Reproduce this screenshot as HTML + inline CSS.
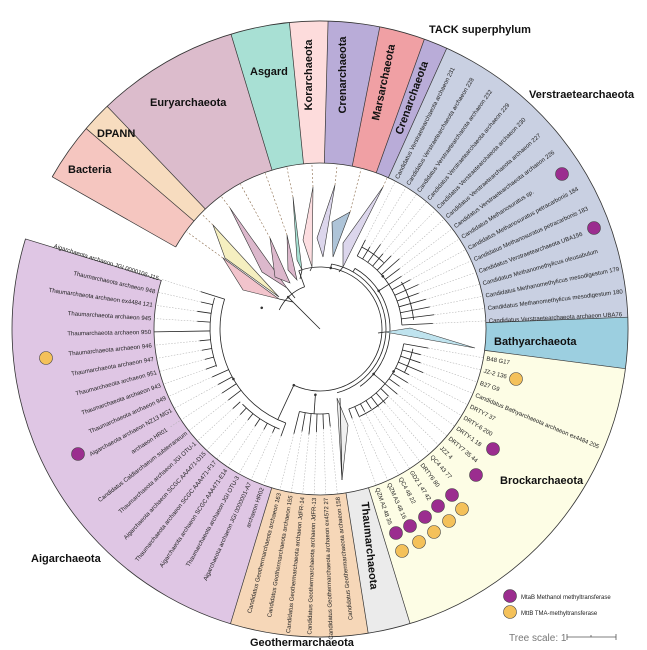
<!DOCTYPE html>
<html><head><meta charset="utf-8"><style>
html,body{margin:0;padding:0;background:#fff;width:647px;height:650px;overflow:hidden}
svg{display:block}
.b{stroke:#222;stroke-width:0.8;fill:none}
.d{stroke:#aaa;stroke-width:0.5;stroke-dasharray:1.5 1.5}
.t{font-family:"Liberation Sans",sans-serif;font-size:6px;fill:#222}
.L{font-family:"Liberation Sans",sans-serif;font-size:11px;font-weight:bold;fill:#111}
.bd{stroke:#333;stroke-width:0.7}
.tri{stroke:#333;stroke-width:0.6}
.bz{stroke:#8a6a4a;stroke-width:0.6;stroke-dasharray:2 2}
</style></head><body>
<svg width="647" height="650" viewBox="0 0 647 650" xmlns="http://www.w3.org/2000/svg">
<g transform="translate(320,329)">
<g fill="none" stroke-width="142">
<circle r="237" stroke="#f5c6c0" transform="rotate(209.6)" stroke-dasharray="45.5 3000"/>
<circle r="237" stroke="#f7dcbf" transform="rotate(220.6)" stroke-dasharray="23.6 3000"/>
<circle r="237" stroke="#dcbccc" transform="rotate(226.3)" stroke-dasharray="111.3 3000"/>
<circle r="237" stroke="#a8e0d4" transform="rotate(253.2)" stroke-dasharray="45.9 3000"/>
<circle r="237" stroke="#fddcdc" transform="rotate(264.3)" stroke-dasharray="29.8 3000"/>
<circle r="237" stroke="#b9acd8" transform="rotate(271.5)" stroke-dasharray="40.1 3000"/>
<circle r="237" stroke="#f0a0a4" transform="rotate(281.2)" stroke-dasharray="35.6 3000"/>
<circle r="237" stroke="#b9acd8" transform="rotate(289.8)" stroke-dasharray="18.6 3000"/>
<circle r="237" stroke="#c9d0e2" transform="rotate(294.3)" stroke-dasharray="262.7 3000"/>
<circle r="237" stroke="#9ccfe0" transform="rotate(357.8)" stroke-dasharray="39.7 3000"/>
<circle r="237" stroke="#fdfde5" transform="rotate(7.4)" stroke-dasharray="271.4 3000"/>
<circle r="237" stroke="#ebebeb" transform="rotate(73)" stroke-dasharray="33.1 3000"/>
<circle r="237" stroke="#f6d7b8" transform="rotate(81)" stroke-dasharray="107.1 3000"/>
<circle r="237" stroke="#dfc6e4" transform="rotate(106.9)" stroke-dasharray="372.7 3000"/>
</g>
<circle r="308" fill="none" stroke="#333" stroke-width="0.8" transform="rotate(209.6)" stroke-dasharray="1867.5 3000"/>
<circle r="166" fill="none" stroke="#333" stroke-width="0.8" transform="rotate(209.6)" stroke-dasharray="1006.5 3000"/>
<g class="bd">
<line x1="166" x2="308" transform="rotate(209.6)"/><line x1="166" x2="308" transform="rotate(220.6)"/>
<line x1="166" x2="308" transform="rotate(226.3)"/><line x1="166" x2="308" transform="rotate(253.2)"/>
<line x1="166" x2="308" transform="rotate(264.3)"/><line x1="166" x2="308" transform="rotate(271.5)"/>
<line x1="166" x2="308" transform="rotate(281.2)"/><line x1="166" x2="308" transform="rotate(289.8)"/>
<line x1="166" x2="308" transform="rotate(294.3)"/><line x1="166" x2="308" transform="rotate(357.8)"/>
<line x1="166" x2="308" transform="rotate(7.4)"/><line x1="166" x2="308" transform="rotate(73)"/>
<line x1="166" x2="308" transform="rotate(81)"/><line x1="166" x2="308" transform="rotate(106.9)"/>
<line x1="166" x2="308" transform="rotate(197)"/>
</g>
<g class="b">
<line x1="0" x2="45" transform="rotate(225)"/>
<circle r="45" transform="rotate(205)" stroke-dasharray="35.3 3000"/>
<line x1="45" x2="62" transform="rotate(250)"/>
<circle r="62" transform="rotate(250)" stroke-dasharray="243.5 3000"/>
<circle r="66" transform="rotate(280)" stroke-dasharray="178.5 3000"/>
<circle r="70" transform="rotate(300)" stroke-dasharray="140.5 3000"/>
<line x1="62" x2="66" transform="rotate(280)"/><line x1="66" x2="70" transform="rotate(300)"/>
<line x1="70" x2="82" transform="rotate(327)"/>
<line x1="70" x2="85" transform="rotate(40)"/>
<line x1="66" x2="85" transform="rotate(94)"/>
<line x1="62" x2="100" transform="rotate(115)"/>
<circle r="82" transform="rotate(297)" stroke-dasharray="86.2 3000"/>
<circle r="85" transform="rotate(10)" stroke-dasharray="89.3 3000"/>
<circle r="85" transform="rotate(84)" stroke-dasharray="29.7 3000"/>
<circle r="100" transform="rotate(110)" stroke-dasharray="152.5 3000"/>
<circle r="92" transform="rotate(297)" stroke-dasharray="27 3000"/>
<circle r="94" transform="rotate(330)" stroke-dasharray="40 3000"/>
<circle r="95" transform="rotate(12)" stroke-dasharray="25 3000"/>
<circle r="96" transform="rotate(45)" stroke-dasharray="35 3000"/>
<circle r="110" transform="rotate(160)" stroke-dasharray="70 3000"/>
<circle r="108" transform="rotate(112)" stroke-dasharray="45 3000"/>
</g>
<g fill="#333">
<circle r="1.3" cx="62" transform="rotate(280)"/><circle r="1.3" cx="70" transform="rotate(327)"/>
<circle r="1.3" cx="70" transform="rotate(40)"/><circle r="1.3" cx="66" transform="rotate(94)"/>
<circle r="1.3" cx="62" transform="rotate(115)"/><circle r="1.3" cx="45" transform="rotate(225)"/>
<circle r="1.3" cx="100" transform="rotate(150)"/><circle r="1.3" cx="82" transform="rotate(320)"/>
<circle r="1.3" cx="85" transform="rotate(30)"/><circle r="1.3" cx="62" transform="rotate(200)"/>
</g>
<g>
<g transform="rotate(297)"><line class="b" x1="82" x2="100"/><line class="d" x1="100" x2="166"/><text class="t" x="169" dy="2">Candidatus Verstraetearchaeota archaeon 231</text></g>
<g transform="rotate(301.3)"><line class="b" x1="82" x2="96"/><line class="d" x1="96" x2="166"/><text class="t" x="169" dy="2">Candidatus Verstraetearchaeota archaeon 228</text></g>
<g transform="rotate(305.6)"><line class="b" x1="82" x2="104"/><line class="d" x1="104" x2="166"/><text class="t" x="169" dy="2">Candidatus Verstraetearchaeota archaeon 232</text></g>
<g transform="rotate(309.9)"><line class="b" x1="82" x2="98"/><line class="d" x1="98" x2="166"/><text class="t" x="169" dy="2">Candidatus Verstraetearchaeota archaeon 229</text></g>
<g transform="rotate(314.2)"><line class="b" x1="82" x2="102"/><line class="d" x1="102" x2="166"/><text class="t" x="169" dy="2">Candidatus Verstraetearchaeota archaeon 230</text></g>
<g transform="rotate(318.5)"><line class="b" x1="82" x2="106"/><line class="d" x1="106" x2="166"/><text class="t" x="169" dy="2">Candidatus Verstraetearchaeota archaeon 227</text></g>
<g transform="rotate(322.8)"><line class="b" x1="82" x2="100"/><line class="d" x1="100" x2="166"/><text class="t" x="169" dy="2">Candidatus Verstraetearchaeota archaeon 226</text></g>
<g transform="rotate(327.1)"><line class="b" x1="82" x2="97"/><line class="d" x1="97" x2="166"/><text class="t" x="169" dy="2">Candidatus Methanosuratus sp.</text></g>
<g transform="rotate(331.4)"><line class="b" x1="82" x2="103"/><line class="d" x1="103" x2="166"/><text class="t" x="169" dy="2">Candidatus Methanosuratus petracarbonis 184</text></g>
<g transform="rotate(335.7)"><line class="b" x1="82" x2="108"/><line class="d" x1="108" x2="166"/><text class="t" x="169" dy="2">Candidatus Methanosuratus petracarbonis 183</text></g>
<g transform="rotate(340)"><line class="b" x1="82" x2="105"/><line class="d" x1="105" x2="166"/><text class="t" x="169" dy="2">Candidatus Verstraetearchaeota  UBA156</text></g>
<g transform="rotate(344.3)"><line class="b" x1="82" x2="110"/><line class="d" x1="110" x2="166"/><text class="t" x="169" dy="2">Candidatus Methanomethylicus oleusabulum</text></g>
<g transform="rotate(348.6)"><line class="b" x1="82" x2="112"/><line class="d" x1="112" x2="166"/><text class="t" x="169" dy="2">Candidatus Methanomethylicus mesodigestum 179</text></g>
<g transform="rotate(352.9)"><line class="b" x1="82" x2="115"/><line class="d" x1="115" x2="166"/><text class="t" x="169" dy="2">Candidatus Methanomethylicus mesodigestum 180</text></g>
<g transform="rotate(357.2)"><line class="b" x1="82" x2="113"/><line class="d" x1="113" x2="166"/><text class="t" x="169" dy="2">Candidatus Verstraetearchaeota archaeon UBA76</text></g>
</g>
<g>
<g transform="rotate(10)"><line class="b" x1="85" x2="110"/><line class="d" x1="110" x2="166"/><text class="t" x="169" dy="2">B48 G17</text></g>
<g transform="rotate(14.3)"><line class="b" x1="85" x2="104"/><line class="d" x1="104" x2="166"/><text class="t" x="169" dy="2">JZ-2 136</text></g>
<g transform="rotate(18.6)"><line class="b" x1="85" x2="106"/><line class="d" x1="106" x2="166"/><text class="t" x="169" dy="2">B27 G9</text></g>
<g transform="rotate(22.9)"><line class="b" x1="85" x2="112"/><line class="d" x1="112" x2="166"/><text class="t" x="169" dy="2">Candidatus Bathyarchaeota archaeon ex4484 205</text></g>
<g transform="rotate(27.2)"><line class="b" x1="85" x2="100"/><line class="d" x1="100" x2="166"/><text class="t" x="169" dy="2">DRTY7 37</text></g>
<g transform="rotate(31.5)"><line class="b" x1="85" x2="103"/><line class="d" x1="103" x2="166"/><text class="t" x="169" dy="2">DRTY-6 200</text></g>
<g transform="rotate(35.8)"><line class="b" x1="85" x2="98"/><line class="d" x1="98" x2="166"/><text class="t" x="169" dy="2">DRTY-1 18</text></g>
<g transform="rotate(40.1)"><line class="b" x1="85" x2="101"/><line class="d" x1="101" x2="166"/><text class="t" x="169" dy="2">DRTY7 35 44</text></g>
<g transform="rotate(44.4)"><line class="b" x1="85" x2="96"/><line class="d" x1="96" x2="166"/><text class="t" x="169" dy="2">JZZ 4</text></g>
<g transform="rotate(48.7)"><line class="b" x1="85" x2="99"/><line class="d" x1="99" x2="166"/><text class="t" x="169" dy="2">QC4 43 77</text></g>
<g transform="rotate(53)"><line class="b" x1="85" x2="97"/><line class="d" x1="97" x2="166"/><text class="t" x="169" dy="2">DRTY6 80</text></g>
<g transform="rotate(57.3)"><line class="b" x1="85" x2="95"/><line class="d" x1="95" x2="166"/><text class="t" x="169" dy="2">GD2 1 47 42</text></g>
<g transform="rotate(61.6)"><line class="b" x1="85" x2="94"/><line class="d" x1="94" x2="166"/><text class="t" x="169" dy="2">QC4 48 22</text></g>
<g transform="rotate(65.9)"><line class="b" x1="85" x2="96"/><line class="d" x1="96" x2="166"/><text class="t" x="169" dy="2">QZM A3 48 16</text></g>
<g transform="rotate(70.2)"><line class="b" x1="85" x2="95"/><line class="d" x1="95" x2="166"/><text class="t" x="169" dy="2">QZM A2 48 35</text></g>
</g>
<g>
<g transform="rotate(-76)"><line class="b" x1="-85" x2="-108"/><line class="d" x1="-108" x2="-166"/><text class="t" x="-169" dy="2" text-anchor="end">Candidatus Geothermarchaeota archaeon 163</text></g>
<g transform="rotate(-80)"><line class="b" x1="-85" x2="-104"/><line class="d" x1="-104" x2="-166"/><text class="t" x="-169" dy="2" text-anchor="end">Candidatus Geothermarchaeota archaeon 155</text></g>
<g transform="rotate(-84)"><line class="b" x1="-85" x2="-106"/><line class="d" x1="-106" x2="-166"/><text class="t" x="-169" dy="2" text-anchor="end">Candidatus Geothermarchaeota archaeon JdFR-14</text></g>
<g transform="rotate(-88)"><line class="b" x1="-85" x2="-103"/><line class="d" x1="-103" x2="-166"/><text class="t" x="-169" dy="2" text-anchor="end">Candidatus Geothermarchaeota archaeon JdFR-13</text></g>
<g transform="rotate(-92)"><line class="b" x1="-85" x2="-100"/><line class="d" x1="-100" x2="-166"/><text class="t" x="-169" dy="2" text-anchor="end">Candidatus Geothermarchaeota archaeon ex4572 27</text></g>
<g transform="rotate(-96)"><line class="b" x1="-85" x2="-98"/><line class="d" x1="-98" x2="-166"/><text class="t" x="-169" dy="2" text-anchor="end">Candidatus Geothermarchaeota archaeon 158</text></g>
</g>
<g>
<g transform="rotate(17.4)"><line class="b" x1="-100" x2="-125"/><line class="d" x1="-125" x2="-166"/><text class="t" x="-169" dy="2" text-anchor="end">Aigarchaeota archaeon JGI 0000106-J15</text></g>
<g transform="rotate(12.8)"><line class="b" x1="-110" x2="-122"/><line class="d" x1="-122" x2="-166"/><text class="t" x="-169" dy="2" text-anchor="end">Thaumarchaeota archaeon 948</text></g>
<g transform="rotate(8.2)"><line class="b" x1="-110" x2="-124"/><line class="d" x1="-124" x2="-166"/><text class="t" x="-169" dy="2" text-anchor="end">Thaumarchaeota archaeon ex4484 121</text></g>
<g transform="rotate(3.6)"><line class="b" x1="-110" x2="-123"/><line class="d" x1="-123" x2="-166"/><text class="t" x="-169" dy="2" text-anchor="end">Thaumarchaeota archaeon 945</text></g>
<g transform="rotate(-1)"><line class="b" x1="-110" x2="-166"/><text class="t" x="-169" dy="2" text-anchor="end">Thaumarchaeota archaeon 950</text></g>
<g transform="rotate(-5.6)"><line class="b" x1="-110" x2="-121"/><line class="d" x1="-121" x2="-166"/><text class="t" x="-169" dy="2" text-anchor="end">Thaumarchaeota archaeon 946</text></g>
<g transform="rotate(-10.2)"><line class="b" x1="-110" x2="-120"/><line class="d" x1="-120" x2="-166"/><text class="t" x="-169" dy="2" text-anchor="end">Thaumarchaeota archaeon 947</text></g>
<g transform="rotate(-14.8)"><line class="b" x1="-110" x2="-119"/><line class="d" x1="-119" x2="-166"/><text class="t" x="-169" dy="2" text-anchor="end">Thaumarchaeota archaeon 951</text></g>
<g transform="rotate(-19.4)"><line class="b" x1="-110" x2="-121"/><line class="d" x1="-121" x2="-166"/><text class="t" x="-169" dy="2" text-anchor="end">Thaumarchaeota archaeon 943</text></g>
<g transform="rotate(-24)"><line class="b" x1="-100" x2="-118"/><line class="d" x1="-118" x2="-166"/><text class="t" x="-169" dy="2" text-anchor="end">Thaumarchaeota archaeon 949</text></g>
<g transform="rotate(-28.6)"><line class="b" x1="-100" x2="-116"/><line class="d" x1="-116" x2="-166"/><text class="t" x="-169" dy="2" text-anchor="end">Aigarchaeota archaeon NZ13 MG1</text></g>
<g transform="rotate(-33.2)"><line class="b" x1="-100" x2="-117"/><line class="d" x1="-117" x2="-180"/><text class="t" x="-183" dy="2" text-anchor="end">archaeon HR01</text></g>
<g transform="rotate(-37.8)"><line class="b" x1="-100" x2="-116"/><line class="d" x1="-116" x2="-166"/><text class="t" x="-169" dy="2" text-anchor="end">Candidatus Caldiarchaeum subterraneum</text></g>
<g transform="rotate(-42.4)"><line class="b" x1="-108" x2="-118"/><line class="d" x1="-118" x2="-166"/><text class="t" x="-169" dy="2" text-anchor="end">Thaumarchaeota archaeon JGI OTU-1</text></g>
<g transform="rotate(-47)"><line class="b" x1="-108" x2="-117"/><line class="d" x1="-117" x2="-166"/><text class="t" x="-169" dy="2" text-anchor="end">Aigarchaeota archaeon SCGC AAA471-D15</text></g>
<g transform="rotate(-51.6)"><line class="b" x1="-108" x2="-116"/><line class="d" x1="-116" x2="-166"/><text class="t" x="-169" dy="2" text-anchor="end">Thaumarchaeota archaeon SCGC AAA471-F17</text></g>
<g transform="rotate(-56.2)"><line class="b" x1="-108" x2="-117"/><line class="d" x1="-117" x2="-166"/><text class="t" x="-169" dy="2" text-anchor="end">Aigarchaeota archaeon SCGC AAA471-E14</text></g>
<g transform="rotate(-60.8)"><line class="b" x1="-108" x2="-115"/><line class="d" x1="-115" x2="-166"/><text class="t" x="-169" dy="2" text-anchor="end">Thaumarchaeota archaeon JGI OTU-3</text></g>
<g transform="rotate(-65.4)"><line class="b" x1="-108" x2="-114"/><line class="d" x1="-114" x2="-166"/><text class="t" x="-169" dy="2" text-anchor="end">Aigarchaeota archaeon JGI 0000001-A7</text></g>
<g transform="rotate(-70)"><line class="b" x1="-100" x2="-114"/><line class="d" x1="-114" x2="-166"/><text class="t" x="-169" dy="2" text-anchor="end">archaeon HR02</text></g>
</g>
</g>
<g class="tri">
<polygon fill="#f2c4cc" points="223,258 243,290 279,299"/>
<polygon fill="#f5efc0" points="213,225 225,258 279,297"/>
<polygon fill="#dcb8cc" points="230,208 262,272 287,288"/>
<polygon fill="#dcb8cc" points="270,238 275,277 290,283"/>
<polygon fill="#dcb8cc" points="287,235 288,270 297,280"/>
<polygon fill="#a6e0d2" points="293,197 297,260 302,270"/>
<polygon fill="#fcdde0" points="313,187 303,240 312,267"/>
<polygon fill="#dcd6ec" points="335,185 317,238 323,257"/>
<polygon fill="#aec4d8" points="350,212 332,222 333,257"/>
<polygon fill="#dcd6ec" points="383,187 343,243 343,267"/>
<polygon fill="#bfe3ee" points="385,332 410,328 475,348"/>
<polygon fill="#f0f0f0" points="337,398 348,425 342,480"/>
</g>
<g class="bz">
<line x1="223" y1="258" x2="187" y2="232"/>
<line x1="213" y1="225" x2="201.5" y2="213.9"/>
<line x1="230" y1="208" x2="221.5" y2="196.6"/>
<line x1="270" y1="238" x2="240.5" y2="184.3"/>
<line x1="287" y1="235" x2="265.3" y2="173.2"/>
<line x1="293" y1="197" x2="286.9" y2="167.3"/>
<line x1="313" y1="187" x2="311.9" y2="164.3"/>
<line x1="335" y1="185" x2="337.1" y2="164.9"/>
<line x1="350" y1="212" x2="361" y2="169.2"/>
<line x1="383" y1="187" x2="386.9" y2="178.2"/>
</g>
<g class="b">
<line x1="279" y1="299" x2="293" y2="302"/><line x1="287" y1="288" x2="295" y2="298"/>
<line x1="302" y1="270" x2="300" y2="279"/><line x1="312" y1="267" x2="310" y2="271"/>
<line x1="343" y1="267" x2="339" y2="272"/><line x1="385" y1="332" x2="378" y2="333"/>
<line x1="342" y1="480" x2="340" y2="398"/>
</g>
<text class="L" x="429" y="33">TACK superphylum</text>
<text class="L" x="529" y="98">Verstraetearchaeota</text>
<text class="L" x="150" y="106">Euryarchaeota</text>
<text class="L" x="97" y="137">DPANN</text>
<text class="L" x="68" y="173">Bacteria</text>
<text class="L" x="250" y="75">Asgard</text>
<text class="L" text-anchor="middle" transform="translate(312,75) rotate(-90)">Korarchaeota</text>
<text class="L" text-anchor="middle" transform="translate(346,75) rotate(-90)">Crenarchaeota</text>
<text class="L" text-anchor="middle" transform="translate(387,83) rotate(-78)">Marsarchaeota</text>
<text class="L" text-anchor="middle" transform="translate(415,99) rotate(-70)">Crenarchaeota</text>
<text class="L" x="494" y="345">Bathyarchaeota</text>
<text class="L" x="500" y="484">Brockarchaeota</text>
<text class="L" text-anchor="middle" transform="translate(366,546) rotate(84)">Thaumarchaeota</text>
<text class="L" x="250" y="646">Geothermarchaeota</text>
<text class="L" x="31" y="562">Aigarchaeota</text>
<g fill="#9b2d8f" stroke="#444" stroke-width="0.6">
<circle cx="562" cy="174" r="6.5"/><circle cx="594" cy="228" r="6.5"/>
<circle cx="493" cy="449" r="6.5"/><circle cx="476" cy="475" r="6.5"/>
<circle cx="452" cy="495" r="6.5"/><circle cx="438" cy="506" r="6.5"/>
<circle cx="425" cy="517" r="6.5"/><circle cx="410" cy="526" r="6.5"/>
<circle cx="396" cy="533" r="6.5"/><circle cx="78" cy="454" r="6.5"/>
<circle cx="510" cy="596" r="6.5"/>
</g>
<g fill="#f4c15a" stroke="#444" stroke-width="0.6">
<circle cx="46" cy="358" r="6.5"/><circle cx="516" cy="379" r="6.5"/>
<circle cx="462" cy="509" r="6.5"/><circle cx="449" cy="521" r="6.5"/>
<circle cx="434" cy="532" r="6.5"/><circle cx="419" cy="542" r="6.5"/>
<circle cx="402" cy="551" r="6.5"/><circle cx="510" cy="612" r="6.5"/>
</g>
<text class="t" x="521" y="599">MtaB Methanol methyltransferase</text>
<text class="t" x="521" y="615">MttB TMA-methyltransferase</text>
<text x="509" y="641" font-family="Liberation Sans,sans-serif" font-size="10" fill="#777">Tree scale: 1</text>
<g stroke="#555" stroke-width="0.8"><line x1="567" y1="637" x2="616" y2="637"/><line x1="567" y1="634" x2="567" y2="640"/><line x1="616" y1="634" x2="616" y2="640"/><line x1="591" y1="635" x2="591" y2="637"/></g>
</svg>
</body></html>
